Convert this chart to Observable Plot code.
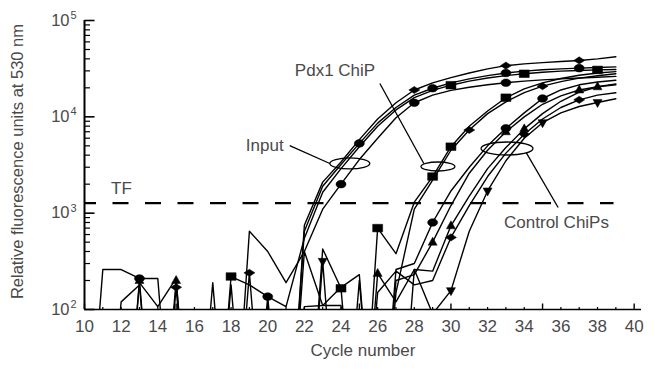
<!DOCTYPE html>
<html>
<head>
<meta charset="utf-8">
<script src="https://cdn.jsdelivr.net/npm/d3@7"></script>
<script src="https://cdn.jsdelivr.net/npm/@observablehq/plot@0.6"></script>
<style>
  html, body { margin: 0; padding: 0; background: #fff; }
  #chart { width: 655px; height: 369px; }
</style>
</head>
<body>
<div id="chart"></div>
<script>
// ---- data ----
const cycles = [10,11,12,13,14,15,16,17,18,19,20,21,22,23,24,25,26,27,28,29,30,31,32,33,34,35,36,37,38,39];
// values below 10^2 are drawn as 1 (outside the plotted range, clipped)
const inputA = [1,1,1,1,1,1,1,190,1,1,1,1, 750,2100,3400,5800,9500,14000,19000,22500,25500,28500,31500,34000,35500,36500,37500,38500,40000,42000];
const inputB = [1,260,260,210,210,1,1,1,1,1,1,1, 650,1900,3200,5300,8600,12500,16800,19800,22500,24800,26800,28500,29800,30800,31500,32000,32500,33000];
const inputC = [1,1,1,190,107,210,1,1,220,180,136,107, 550,1650,2900,4900,8000,11800,15800,18800,21300,23500,25300,26800,28000,29000,29800,30300,30700,31000];
const inputD = [1,1,1,1,1,1,1,1,1,650,400,190, 400,1100,2000,3600,6000,9800,14000,16800,18800,20300,21500,22600,23500,24200,24800,25300,25800,26300];
const pdxA   = [1,1,1,1,1,1,1,1,180,1,1,1, 1,425,166,1,700,380,1300,2400,4900,8000,11500,15800,19500,22500,25000,27000,28500,29500];
const pdxB   = [1,1,1,1,1,170,1,1,1,240,1,1, 1,1,1,1,1,150,1100,2200,4500,7300,10800,14300,17800,20800,23200,25200,26700,28000];
const ctrlA  = [1,1,1,1,1,1,1,1,1,1,136,1, 107,110,170,230,1,260,300,800,1700,3000,5000,7600,11000,15500,19000,21500,23000,24000];
const ctrlB  = [1,1,1,1,1,1,1,1,1,1,1,1, 1,1,1,1,237,120,260,250,740,1500,2900,4800,7500,10800,14500,18000,20500,22000];
const ctrlC  = [1,1,120,180,1,1,1,1,1,1,1,1, 1,1,1,1,150,250,180,200,560,1200,2400,4200,6600,9500,12500,15000,16800,17800];
const ctrlD  = [1,1,1,1,1,1,1,1,1,1,1,1, 1,316,1,200,1,1,260,90,157,650,1700,3500,6000,8700,11000,12800,14100,15400];
const ctrlE  = [1,1,1,200,1,200,1,1,1,1,1,1, 400,110,110,1,1,200,230,500,1200,2600,4500,7000,10000,13500,16500,19000,20500,21500];

// cycles at which each curve carries a marker
const inputAMarks = [28,33,37];
const inputBMarks = [13,25,29,33,37];
const inputCMarks = [18,30,34,38];
const inputDMarks = [24,28,33];
const pdxAMarks   = [24,26,29,30,33];
const pdxBMarks   = [15,19,31,35];
const ctrlAMarks  = [20,29,33,35];
const ctrlBMarks  = [26,30,34,38];
const ctrlCMarks  = [30,34,37];
const ctrlDMarks  = [23,30,32,35,38];
const ctrlEMarks  = [13,15,29,33,37];

const thresholdValue = 1270;     // TF line
const xTickLabels = [10,12,14,16,18,20,22,24,26,28,30,32,34,36,38,40];
const xMajorTicks = [10,15,20,25,30,35,40];
const xMinorTicks = [11,12,13,14,16,17,18,19,21,22,23,24,26,27,28,29,31,32,33,34,36,37,38,39];
const yMajorTicks = [100,1000,10000,100000];
const yTickExponents = ["2","3","4","5"];
const yMinorTicks = [200,300,400,500,600,700,800,900,2000,3000,4000,5000,6000,7000,8000,9000,20000,30000,40000,50000,60000,70000,80000,90000];

// ---- marker shapes ----
function ellipseSym(rx, ry) {
  const k = 0.5523;
  return {draw(c) {
    c.moveTo(rx, 0);
    c.bezierCurveTo(rx, ry*k, rx*k, ry, 0, ry);
    c.bezierCurveTo(-rx*k, ry, -rx, ry*k, -rx, 0);
    c.bezierCurveTo(-rx, -ry*k, -rx*k, -ry, 0, -ry);
    c.bezierCurveTo(rx*k, -ry, rx, -ry*k, rx, 0);
    c.closePath();
  }};
}
const polySym = pts => ({draw(c) { pts.forEach(([x, y], i) => i ? c.lineTo(x, y) : c.moveTo(x, y)); c.closePath(); }});
const SYM = {
  circle: ellipseSym(5, 3.8),
  square: polySym([[-5,-3.8],[5,-3.8],[5,3.8],[-5,3.8]]),
  diamond: polySym([[0,-3.6],[5.5,0],[0,3.6],[-5.5,0]]),
  triUp: polySym([[0,-5],[4.5,3],[-4.5,3]]),
  triDown: polySym([[0,5],[4.5,-3],[-4.5,-3]])
};
const tickUp = len => ({draw(c) { c.moveTo(0, 0); c.lineTo(0, -len); }});
const tickRight = len => ({draw(c) { c.moveTo(0, 0); c.lineTo(len, 0); }});

const seriesDefs = [
  ["Input A", inputA, inputAMarks, "diamond"],
  ["Input B", inputB, inputBMarks, "circle"],
  ["Input C", inputC, inputCMarks, "square"],
  ["Input D", inputD, inputDMarks, "circle"],
  ["Pdx1 A", pdxA, pdxAMarks, "square"],
  ["Pdx1 B", pdxB, pdxBMarks, "diamond"],
  ["Control A", ctrlA, ctrlAMarks, "circle"],
  ["Control B", ctrlB, ctrlBMarks, "triUp"],
  ["Control C", ctrlC, ctrlCMarks, "diamond"],
  ["Control D", ctrlD, ctrlDMarks, "triDown"],
  ["Control E", ctrlE, ctrlEMarks, "triUp"]
];
const rows = seriesDefs.flatMap(([name, vals]) => cycles.map((c, i) => ({series: name, cycle: c, value: vals[i]})));

const markerMarks = seriesDefs.map(([name, vals, marks, shape]) =>
  Plot.dot(marks.map(c => ({cycle: c, value: vals[cycles.indexOf(c)]})),
    {x: "cycle", y: "value", symbol: SYM[shape], fill: "black", stroke: "black", strokeWidth: 0.5, clip: true}));

const ink = "#4a4a4a";
const chart = Plot.plot({
  width: 655, height: 369,
  marginLeft: 84, marginRight: 14, marginTop: 20, marginBottom: 60,
  x: {domain: [10, 40.4], axis: null},
  y: {type: "log", domain: [100, 100000], axis: null},
  style: {fontFamily: "'Liberation Sans', Arial, sans-serif", fontSize: "16px", background: "#fff", color: ink},
  marks: [
    // threshold
    Plot.ruleY([thresholdValue], {x1: 10, x2: 38.9, stroke: "black", strokeWidth: 2.4, strokeDasharray: "16,16.5", strokeDashoffset: 4}),
    // curves
    Plot.line(rows, {x: "cycle", y: "value", z: "series", stroke: "black", strokeWidth: 1.4, clip: true}),
    ...markerMarks,
    // axes
    Plot.ruleX([10], {y1: 100, y2: 100000, stroke: "black", strokeWidth: 2}),
    Plot.ruleY([100], {x1: 10, x2: 40.4, stroke: "black", strokeWidth: 1.6}),
    Plot.dot(xMinorTicks, {x: d => d, y: 100, symbol: tickUp(2.5), stroke: "black", fill: "none", strokeWidth: 1.2}),
    Plot.dot(xMajorTicks, {x: d => d, y: 100, symbol: tickUp(6), stroke: "black", fill: "none", strokeWidth: 1.4}),
    Plot.dot(yMinorTicks, {x: 10, y: d => d, symbol: tickRight(5.5), stroke: "black", fill: "none", strokeWidth: 1.2}),
    Plot.dot(yMajorTicks, {x: 10, y: d => d, symbol: tickRight(10), stroke: "black", fill: "none", strokeWidth: 1.6}),
    Plot.text(xTickLabels, {x: d => d, y: 100, dy: 17, text: d => String(d), fontSize: 17, fill: ink}),
    Plot.text(yMajorTicks, {x: 10, y: d => d, dx: -15, text: () => "10", textAnchor: "end", fontSize: 16.5, fill: ink}),
    Plot.text(yMajorTicks, {x: 10, y: d => d, dx: -14, dy: -5, text: (d, i) => yTickExponents[i], textAnchor: "start", fontSize: 11, fill: ink}),
    // axis titles
    Plot.text(["Cycle number"], {frameAnchor: "bottom", dy: 46, fontSize: 17, fill: ink}),
    Plot.text(["Relative fluorescence units at 530 nm"], {x: 6.35, y: 3436, rotate: -90, fontSize: 16.5, fill: ink}),
    // annotations
    Plot.text(["TF"], {x: 12.02, y: 1800, fontSize: 17, fill: ink}),
    Plot.text(["Input"], {x: 20.87, y: 5030, textAnchor: "end", fontSize: 17, fill: ink}),
    Plot.text(["Pdx1 ChiP"], {x: 21.48, y: 30270, textAnchor: "start", fontSize: 17, fill: ink}),
    Plot.text(["Control ChiPs"], {x: 32.9, y: 800, textAnchor: "start", fontSize: 17, fill: ink}),
    Plot.link([0], {x1: 21.2, y1: 5030, x2: 23.39, y2: 3280, stroke: "black", strokeWidth: 1.3}),
    Plot.link([0], {x1: 26.12, y1: 22180, x2: 28.52, y2: 3280, stroke: "black", strokeWidth: 1.3}),
    Plot.link([0], {x1: 34.1, y1: 4270, x2: 35.85, y2: 1146, stroke: "black", strokeWidth: 1.3}),
    Plot.dot([0], {x: 24.48, y: 3280, symbol: ellipseSym(20, 5.5), fill: "none", stroke: "black", strokeWidth: 1.3}),
    Plot.dot([0], {x: 29.29, y: 3050, symbol: ellipseSym(17, 4.5), fill: "none", stroke: "black", strokeWidth: 1.3}),
    Plot.dot([0], {x: 33.06, y: 4690, symbol: ellipseSym(26, 6.5), fill: "none", stroke: "black", strokeWidth: 1.3})
  ]
});
document.getElementById("chart").appendChild(chart);
</script>
</body>
</html>
